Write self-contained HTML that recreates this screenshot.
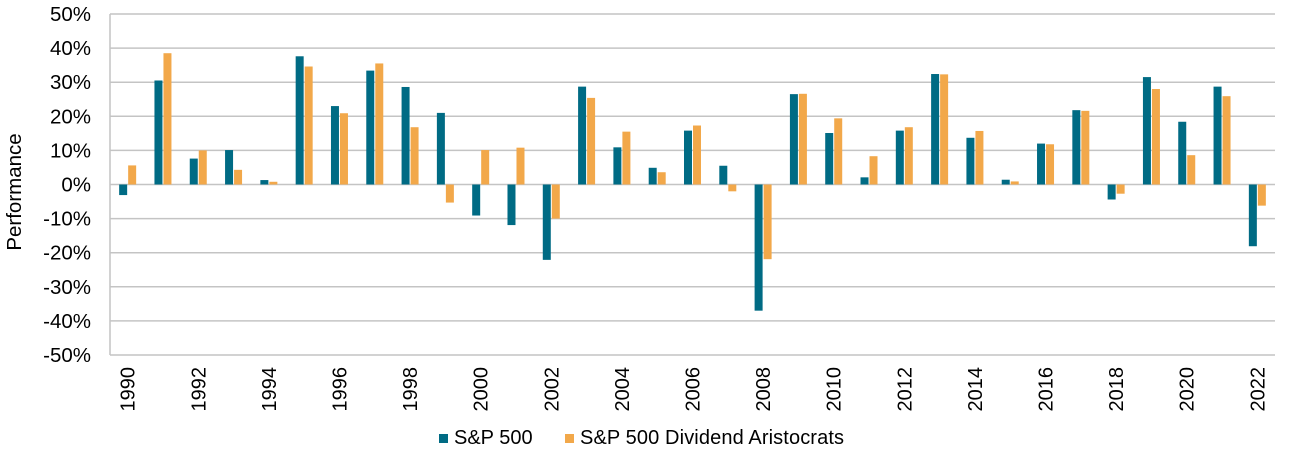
<!DOCTYPE html>
<html><head><meta charset="utf-8"><style>
body{margin:0;background:#fff;}
svg text{font-family:"Liberation Sans",Arial,sans-serif;fill:#000;}
</style></head><body>
<svg width="1292" height="460" id="chart">
<g id="grid"></g><g id="bars"></g><g id="axes"></g>
<text transform="translate(21,192) rotate(-90)" text-anchor="middle" font-size="20.5">Performance</text>
<g>
<rect x="439" y="434" width="9" height="9" fill="#006b84"/>
<text x="454" y="444" font-size="20">S&amp;P 500</text>
<rect x="565" y="434" width="9" height="9" fill="#f2a84a"/>
<text x="580" y="444" font-size="20" textLength="264">S&amp;P 500 Dividend Aristocrats</text>
</g>
</svg>
<script>
const years=[1990,1991,1992,1993,1994,1995,1996,1997,1998,1999,2000,2001,2002,2003,2004,2005,2006,2007,2008,2009,2010,2011,2012,2013,2014,2015,2016,2017,2018,2019,2020,2021,2022];
const sp500=[-3.1,30.5,7.6,10.1,1.3,37.6,23.0,33.4,28.6,21.0,-9.1,-11.9,-22.1,28.7,10.9,4.9,15.8,5.5,-37.0,26.5,15.1,2.1,15.8,32.4,13.7,1.4,12.0,21.8,-4.4,31.5,18.4,28.7,-18.1];
const aristocrats=[5.6,38.5,10.0,4.3,0.8,34.6,20.9,35.5,16.8,-5.3,10.1,10.8,-10.0,25.4,15.5,3.6,17.3,-2.0,-21.9,26.6,19.4,8.3,16.8,32.3,15.7,0.9,11.8,21.6,-2.7,28.0,8.6,25.9,-6.2];
const yTicks=[50,40,30,20,10,0,-10,-20,-30,-40,-50];
const NS='http://www.w3.org/2000/svg';
const L=110,R=1275,T=14,B=355;
const y=v=>T+(50-v)/100*(B-T);
const cw=(R-L)/years.length;
const xc=i=>L+cw*(i+0.5);
function mk(tag,attrs,parent){const e=document.createElementNS(NS,tag);for(const k in attrs)e.setAttribute(k,attrs[k]);document.getElementById(parent).appendChild(e);return e;}
yTicks.forEach(t=>{
  const ln=mk('line',{x1:L,x2:R,y1:y(t),y2:y(t),stroke:'#c4c4c4','stroke-width':1.5},'grid');
  
  
  const tx=mk('text',{x:91,y:y(t)+7,'text-anchor':'end','font-size':20.5},'axes');
  tx.textContent=t+'%';
  
  
});
const ax=mk('line',{x1:L,x2:L,y1:T,y2:B,stroke:'#c4c4c4','stroke-width':1.5},'axes');


const bw=8;
years.forEach((yr,i)=>{
  const c=xc(i);
  [[sp500[i],'#006b84',c-bw-0.5,'bar-sp500'],[aristocrats[i],'#f2a84a',c+0.5,'bar-aristocrats']].forEach(([v,col,x,nm])=>{
    const r=mk('rect',{x:x,y:Math.min(y(v),y(0)),width:bw,height:Math.abs(y(v)-y(0)),fill:col},'bars');
    
    
  });
  if(i%2===0){
    const tx=mk('text',{transform:`translate(${c+7},367) rotate(-90)`,'text-anchor':'end','font-size':20},'axes');
    tx.textContent=yr;
    
    
  }
});
</script>
</body></html>
